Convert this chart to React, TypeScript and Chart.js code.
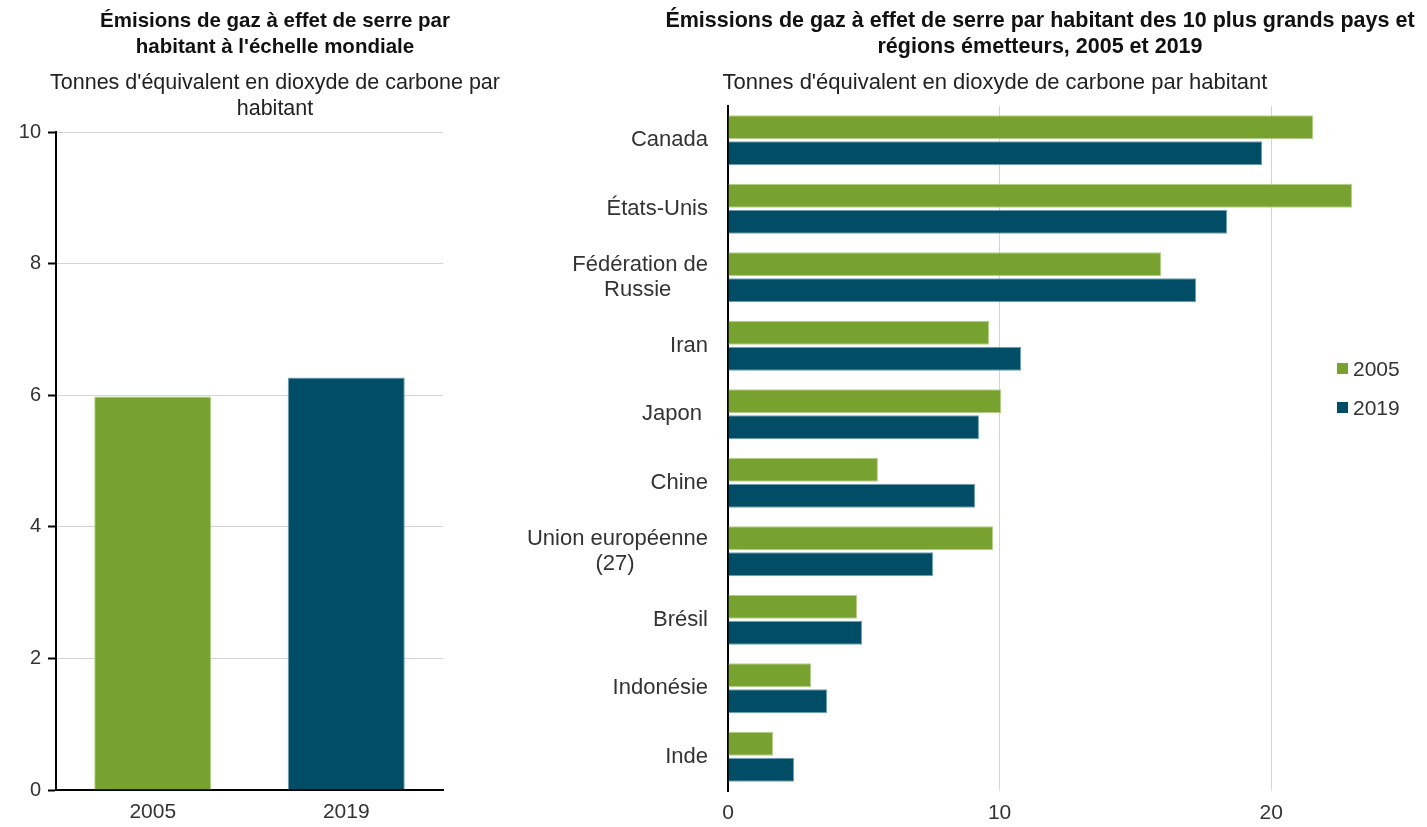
import React, { useEffect, useRef } from "react";
import { Chart, registerables } from "chart.js";

Chart.register(...registerables);

// ---------- Data ----------
const worldYears = ["2005", "2019"];
const worldValues = [5.98, 6.27];

const countries: (string | string[])[] = [
  "Canada",
  "États-Unis",
  ["Fédération de", "Russie      "],
  "Iran",
  "Japon ",
  "Chine",
  ["Union européenne", "(27)            "],
  "Brésil",
  "Indonésie",
  "Inde",
];
const values2005 = [21.55, 22.98, 15.95, 9.61, 10.06, 5.52, 9.76, 4.75, 3.06, 1.66];
const values2019 = [19.67, 18.38, 17.24, 10.79, 9.24, 9.1, 7.55, 4.94, 3.65, 2.43];
const seriesNames = ["2005", "2019"];

const leftTitle = ["Émisions de gaz à effet de serre par", "habitant à l'échelle mondiale"];
const leftSubtitle = ["Tonnes d'équivalent en dioxyde de carbone par", "habitant"];
const rightTitle = [
  "Émissions de gaz à effet de serre par habitant des 10 plus grands pays et",
  "régions émetteurs, 2005 et 2019",
];
const rightSubtitle = ["Tonnes d'équivalent en dioxyde de carbone par habitant"];

// ---------- Styles ----------
const GREEN = "#78a22f";
const TEAL = "#014d66";
const GREEN_EDGE = "#b5d18a";
const TEAL_EDGE = "#6fa3b8";
const FONT = "'Liberation Sans', Arial, sans-serif";
const TEXT = "#333333";
const GRID = "#d4d4d4";

export default function App() {
  const leftRef = useRef<HTMLCanvasElement | null>(null);
  const rightRef = useRef<HTMLCanvasElement | null>(null);

  useEffect(() => {
    document.body.style.margin = "0";
    Chart.defaults.font.family = FONT;
    Chart.defaults.color = TEXT;

    const left = new Chart(leftRef.current as HTMLCanvasElement, {
      type: "bar",
      data: {
        labels: worldYears,
        datasets: [
          {
            data: worldValues,
            backgroundColor: [GREEN, TEAL],
            borderColor: [GREEN_EDGE, TEAL_EDGE],
            borderWidth: 1,
            barPercentage: 0.605,
            categoryPercentage: 1,
          },
        ],
      },
      options: {
        animation: false,
        responsive: false,
        maintainAspectRatio: false,
        layout: { padding: { top: 132, right: 17, bottom: 0, left: 0 } },
        plugins: { legend: { display: false }, tooltip: { enabled: false } },
        scales: {
          x: {
            grid: { display: false, drawTicks: false },
            border: { color: "#000", width: 2 },
            ticks: { font: { size: 21 }, color: TEXT, padding: 10 },
            afterFit: (s: any) => {
              s.height = 37;
            },
          },
          y: {
            min: 0,
            max: 10,
            ticks: { stepSize: 2, font: { size: 20 }, color: TEXT, padding: 7 },
            grid: { color: GRID, lineWidth: 1, tickLength: 8, tickColor: "#000", tickWidth: 2 },
            border: { color: "#000", width: 2 },
            afterFit: (s: any) => {
              s.width = 56;
            },
          },
        },
      },
    });

    const right = new Chart(rightRef.current as HTMLCanvasElement, {
      type: "bar",
      data: {
        labels: countries as any,
        datasets: [
          {
            label: seriesNames[0],
            data: values2005,
            backgroundColor: GREEN,
            borderColor: GREEN_EDGE,
            borderWidth: 1,
            barPercentage: 0.92,
            categoryPercentage: 0.76,
          },
          {
            label: seriesNames[1],
            data: values2019,
            backgroundColor: TEAL,
            borderColor: TEAL_EDGE,
            borderWidth: 1,
            barPercentage: 0.92,
            categoryPercentage: 0.76,
          },
        ],
      },
      options: {
        indexAxis: "y",
        animation: false,
        responsive: false,
        maintainAspectRatio: false,
        layout: { padding: { top: 106, right: 20, bottom: 0, left: 0 } },
        plugins: { legend: { display: false }, tooltip: { enabled: false } },
        scales: {
          x: {
            min: 0,
            max: 25,
            ticks: { stepSize: 10, font: { size: 21 }, color: TEXT, padding: 10 },
            afterBuildTicks: (s: any) => {
              s.ticks = s.ticks.filter((t: any) => t.value % 10 === 0);
            },
            grid: {
              drawTicks: false,
              color: (ctx: any) => (ctx.tick && ctx.tick.value === 0 ? "rgba(0,0,0,0)" : GRID),
            },
            border: { display: false },
            afterFit: (s: any) => {
              s.height = 36;
            },
          },
          y: {
            grid: { display: false, drawTicks: false },
            border: { color: "#000", width: 2 },
            ticks: { font: { size: 22, lineHeight: 1.15 }, color: TEXT, padding: 20 },
            afterFit: (s: any) => {
              s.width = 228;
            },
          },
        },
      },
    });

    return () => {
      left.destroy();
      right.destroy();
    };
  }, []);

  const baseText: React.CSSProperties = {
    position: "absolute",
    fontFamily: FONT,
    lineHeight: "26px",
    textAlign: "center",
    whiteSpace: "nowrap",
  };

  return (
    <div
      style={{
        position: "fixed",
        left: 0,
        top: 0,
        width: 1427,
        height: 827,
        background: "#fff",
        overflow: "hidden",
      }}
    >
      <canvas
        ref={leftRef}
        width={460}
        height={827}
        style={{ position: "absolute", left: 0, top: 0, width: 460, height: 827 }}
      />
      <canvas
        ref={rightRef}
        width={927}
        height={827}
        style={{ position: "absolute", left: 500, top: 0, width: 927, height: 827 }}
      />
      <div style={{ ...baseText, left: 25, width: 500, top: 7, fontSize: 20.5, fontWeight: "bold", color: "#111" }}>
        {leftTitle.map((t, i) => (
          <div key={i}>{t}</div>
        ))}
      </div>
      <div style={{ ...baseText, left: 0, width: 550, top: 69, fontSize: 21.5, color: "#222" }}>
        {leftSubtitle.map((t, i) => (
          <div key={i}>{t}</div>
        ))}
      </div>
      <div style={{ ...baseText, left: 590, width: 900, top: 7, fontSize: 21.5, fontWeight: "bold", color: "#111" }}>
        {rightTitle.map((t, i) => (
          <div key={i}>{t}</div>
        ))}
      </div>
      <div style={{ ...baseText, left: 645, width: 700, top: 69, fontSize: 22, color: "#222" }}>
        {rightSubtitle.map((t, i) => (
          <div key={i}>{t}</div>
        ))}
      </div>
      <div style={{ position: "absolute", left: 1337, top: 349, fontFamily: FONT, fontSize: 21, color: TEXT }}>
        {seriesNames.map((n, i) => (
          <div key={n} style={{ display: "flex", alignItems: "center", height: 39 }}>
            <span
              style={{
                display: "inline-block",
                width: 11,
                height: 11,
                background: i === 0 ? GREEN : TEAL,
                marginRight: 5,
              }}
            />
            <span>{n}</span>
          </div>
        ))}
      </div>
    </div>
  );
}
